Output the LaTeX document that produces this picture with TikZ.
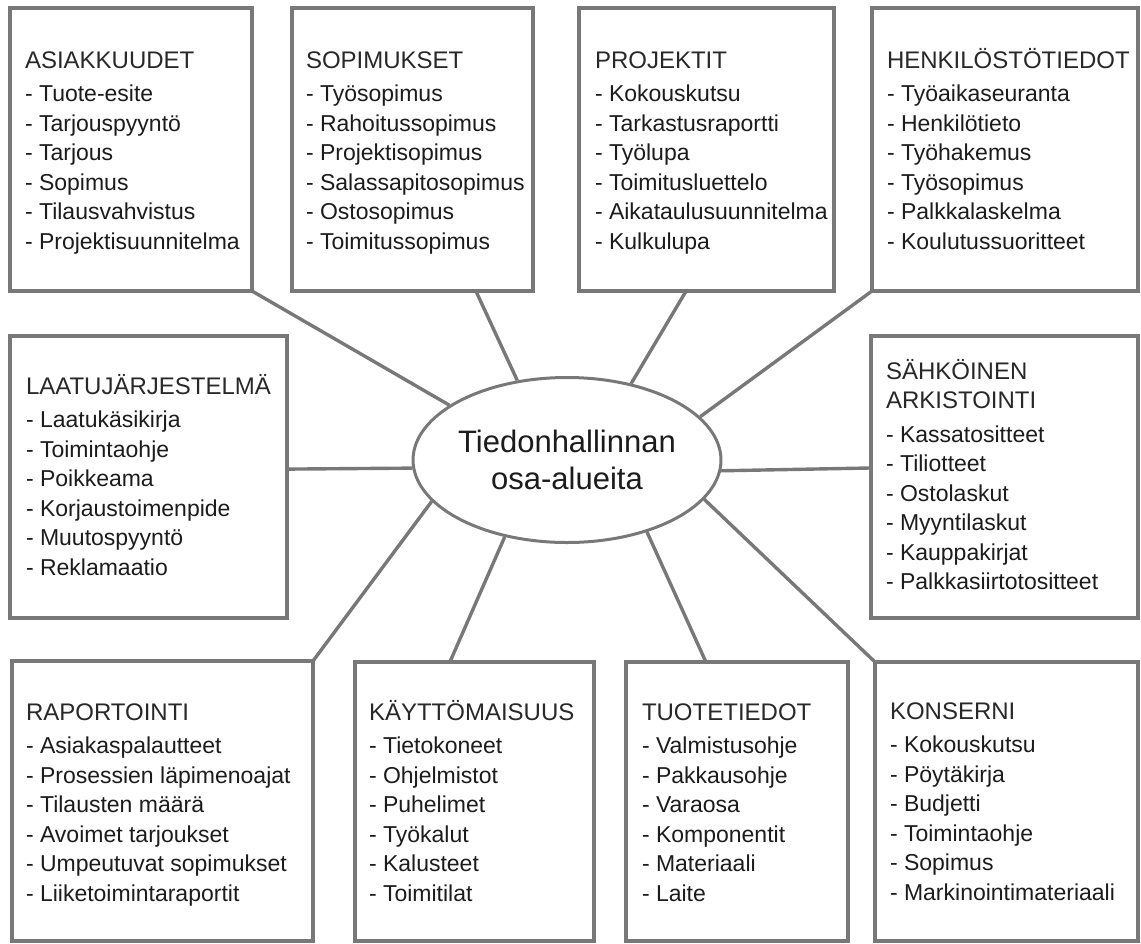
\documentclass[tikz,border=0pt]{standalone}
\usepackage{fontspec}
\setmainfont{Liberation Sans}
\usetikzlibrary{shapes.geometric,calc}
\pgfdeclarelayer{background}
\pgfsetlayers{background,main}
\definecolor{frame}{RGB}{120,120,120}
\definecolor{ink}{RGB}{28,28,28}
\definecolor{headink}{RGB}{40,40,40}
% list helpers: heading lines, then "- item" lines on a fixed baseline grid
\newcommand\hdline[1]{\hbox{\color{headink}\fontsize{24pt}{29.5pt}\selectfont #1}}
\newcommand\hd[1]{\hdline{#1}\vskip4pt}
\newcommand\li[1]{\hbox{- #1}}
\newcommand\entrylist[1]{\vtop{#1}}

\begin{document}
\begin{tikzpicture}[x=1pt,y=-1pt,
  area/.style={draw=frame, line width=3.4pt, fill=white, rectangle,
    inner sep=0pt, outer sep=0pt, anchor=north west},
  listing/.style={anchor=base west, inner sep=0pt, outer sep=0pt, text=ink,
    font=\fontsize{23pt}{29.5pt}\selectfont},
  hub/.style={ellipse, draw=frame, line width=3pt, fill=white,
    minimum width=276pt, minimum height=165pt, inner sep=0pt, align=center,
    text=ink, font=\fontsize{31pt}{37pt}\selectfont},
  link/.style={draw=frame, line width=3.4pt}]

\useasboundingbox (0,0) rectangle (1141,943);

% frames
\node[area, minimum width=242pt, minimum height=283pt] (b1) at (10,8) {};
\node[area, minimum width=241pt, minimum height=283pt] (b2) at (292,8) {};
\node[area, minimum width=255pt, minimum height=283pt] (b3) at (579,8) {};
\node[area, minimum width=266pt, minimum height=283pt] (b4) at (872,8) {};
\node[area, minimum width=277pt, minimum height=282pt] (b5) at (10,336) {};
\node[area, minimum width=267pt, minimum height=282pt] (b6) at (871,336) {};
\node[area, minimum width=301pt, minimum height=280pt] (b7) at (12,661) {};
\node[area, minimum width=239pt, minimum height=279pt] (b8) at (355,662) {};
\node[area, minimum width=222pt, minimum height=279pt] (b9) at (626,662) {};
\node[area, minimum width=263pt, minimum height=279pt] (b10) at (875,662) {};

% central topic
\node[hub] (c) at (567,460) {Tiedonhallinnan\\osa-alueita};

% contents
\node[listing] (t1) at ($(b1.north west)+(15,60)$) {\entrylist{\hd{ASIAKKUUDET}
  \li{Tuote-esite}\li{Tarjouspyyntö}\li{Tarjous}\li{Sopimus}\li{Tilausvahvistus}\li{Projektisuunnitelma}}};
\node[listing] (t2) at ($(b2.north west)+(14,60)$) {\entrylist{\hd{SOPIMUKSET}
  \li{Työsopimus}\li{Rahoitussopimus}\li{Projektisopimus}\li{Salassapitosopimus}\li{Ostosopimus}\li{Toimitussopimus}}};
\node[listing] (t3) at ($(b3.north west)+(16,60)$) {\entrylist{\hd{PROJEKTIT}
  \li{Kokouskutsu}\li{Tarkastusraportti}\li{Työlupa}\li{Toimitusluettelo}\li{Aikataulusuunnitelma}\li{Kulkulupa}}};
\node[listing] (t4) at ($(b4.north west)+(15,60)$) {\entrylist{\hd{HENKILÖSTÖTIEDOT}
  \li{Työaikaseuranta}\li{Henkilötieto}\li{Työhakemus}\li{Työsopimus}\li{Palkkalaskelma}\li{Koulutussuoritteet}}};
\node[listing] (t5) at ($(b5.north west)+(16,58)$) {\entrylist{\hd{LAATUJÄRJESTELMÄ}
  \li{Laatukäsikirja}\li{Toimintaohje}\li{Poikkeama}\li{Korjaustoimenpide}\li{Muutospyyntö}\li{Reklamaatio}}};
\node[listing] (t6) at ($(b6.north west)+(15,43)$) {\entrylist{\hdline{SÄHKÖINEN}\hd{ARKISTOINTI}
  \li{Kassatositteet}\li{Tiliotteet}\li{Ostolaskut}\li{Myyntilaskut}\li{Kauppakirjat}\li{Palkkasiirtotositteet}}};
\node[listing] (t7) at ($(b7.north west)+(14,59)$) {\entrylist{\hd{RAPORTOINTI}
  \li{Asiakaspalautteet}\li{Prosessien läpimenoajat}\li{Tilausten määrä}\li{Avoimet tarjoukset}\li{Umpeutuvat sopimukset}\li{Liiketoimintaraportit}}};
\node[listing] (t8) at ($(b8.north west)+(14,58)$) {\entrylist{\hd{KÄYTTÖMAISUUS}
  \li{Tietokoneet}\li{Ohjelmistot}\li{Puhelimet}\li{Työkalut}\li{Kalusteet}\li{Toimitilat}}};
\node[listing] (t9) at ($(b9.north west)+(16,58)$) {\entrylist{\hd{TUOTETIEDOT}
  \li{Valmistusohje}\li{Pakkausohje}\li{Varaosa}\li{Komponentit}\li{Materiaali}\li{Laite}}};
\node[listing] (t10) at ($(b10.north west)+(15,57)$) {\entrylist{\hd{KONSERNI}
  \li{Kokouskutsu}\li{Pöytäkirja}\li{Budjetti}\li{Toimintaohje}\li{Sopimus}\li{Markinointimateriaali}}};

% spokes from the central topic to each area
\begin{pgfonlayer}{background}
\draw[link] (b1.south east) -- (c.155);
\draw[link] ($(b2.south west)!0.763!(b2.south east)$) -- (c.122.3);
\draw[link] ($(b3.south west)!0.42!(b3.south east)$) -- (c.50);
\draw[link] (b4.south west) -- (c.18);
\draw[link] ($(b5.north east)!0.472!(b5.south east)$) -- (c.183.8);
\draw[link] ($(b6.north west)!0.468!(b6.south west)$) -- (c.356.2);
\draw[link] (b7.north east) -- (c.197.9);
\draw[link] ($(b8.north west)!0.397!(b8.north east)$) -- (c.231.6);
\draw[link] ($(b9.north west)!0.36!(b9.north east)$) -- (c.318.8);
\draw[link] (b10.north west) -- (c.344.5);
\end{pgfonlayer}
\end{tikzpicture}
\end{document}
